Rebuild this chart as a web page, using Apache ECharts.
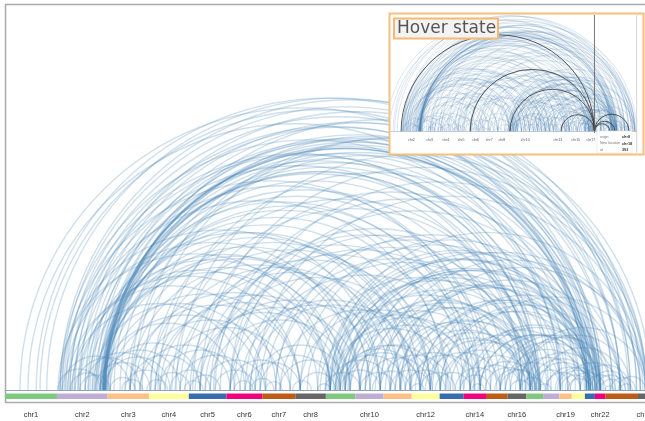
<!DOCTYPE html>
<html>
<head>
<meta charset="utf-8">
<script src="https://cdn.jsdelivr.net/npm/echarts@6/dist/echarts.min.js"></script>
<style>
  html, body { margin: 0; padding: 0; background: #fff; }
  #chart { width: 645px; height: 421px; }
</style>
</head>
<body>
<div id="chart"></div>
<script>
// Chromosomes laid end to end along the genome axis (lengths in Mb)
const chromNames = ['chr1','chr2','chr3','chr4','chr5','chr6','chr7','chr8','chr9','chr10','chr11','chr12',
  'chr13','chr14','chr15','chr16','chr17','chr18','chr19','chr20','chr21','chr22','chrX','chrY'];
const chromLengths = [249.3, 243.2, 198.0, 191.2, 180.9, 171.1, 159.1, 146.4, 141.2, 135.5, 135.0, 133.9,
  115.2, 107.3, 102.5, 90.4, 81.2, 78.1, 59.1, 63.0, 48.1, 51.3, 155.3, 59.4];
const chromColors = ['#7fc97f', '#beaed4', '#fdc086', '#ffff99', '#386cb0', '#f0027f', '#bf5b17', '#666666'];

// Chromosome names printed under each axis
const mainLabelled = ['chr1','chr2','chr3','chr4','chr5','chr6','chr7','chr8','chr10','chr12','chr14','chr16','chr19','chr22','chrY'];
const insetLabelled = ['chr2','chr3','chr4','chr5','chr6','chr7','chr8','chr10','chr13','chr15','chr17'];

// Rearrangement links: [origin, new location] in genome coordinates (Mb)
const links = [
  [72,2779],[110,2664],[168,2856],[264,3048],[274,2990],[293,2914],[312,2840],[336,2856],[360,3029],[384,2952],
  [398,2800],[418,2808],[437,3000],[456,2870],[466,2914],[475,2790],[485,2837],[504,3096],[523,2952],[552,2830],
  [600,2850],[658,3077],[734,2820],[821,3077],[264,2664],[283,2549],[312,2568],[331,2482],[408,2606],[446,2520],
  [461,2558],[470,2736],[480,2798],[494,2674],[274,2280],[302,2117],[350,2309],[427,2232],[456,2040],[470,2126],
  [485,2251],[936,3072],[1008,2840],[1080,3077],
  [1560,3072],[1632,2800],[1728,3048],[1800,2790],[1896,3072],[1992,2830],[2088,2845],[2184,3077],[2280,2810],
  [2376,2835],[2472,3072],
  [254,1560],[264,1800],[288,1704],[322,1416],[360,1608],[384,1896],[432,1560],[456,1632],[470,1752],[475,1848],
  [480,1944],[494,1416],[504,1224],[576,1992],[600,1800],[624,1560],[696,2040],[720,1896],[744,1656],[816,1944],
  [840,2088],[888,2280],[936,2232],[960,2040],[984,2472],[1032,2376],[1080,2568],[1152,2520],[1176,2280],[1224,2664],
  [1296,2520],[1368,2760],[1416,2856],[1536,2856],[1560,2808],[1584,2664],[1608,2568],[1632,2952],[1704,2856],[1752,2760],
  [1800,3048],[1848,2856],[1896,2952],[1944,2808],[1992,2856],[2040,2952],[2088,2904],[1560,2472],[1608,2424],[1656,2520],
  [1728,2520],[1776,2568],[1824,2472],[1872,2544],[1920,2496],[1968,2520],[2040,2520],[936,1800],[984,1656],[1080,1896],
  [1128,1992],[1176,1992],[1200,1632],[1320,2088],[1416,2184],[1512,2232],[1584,2280],[1632,2256],[600,1416],[648,1320],
  [720,1560],[768,1368],[864,1608],[912,1704],
  [254,456],[274,600],[312,475],[336,648],[360,504],[384,744],[432,696],[456,840],[475,792],[485,936],
  [504,624],[576,768],[600,936],[648,1080],[720,888],[744,1128],[792,984],[840,1176],[888,1032],[960,1248],
  [1008,1200],[1080,1368],[1152,1416],[1224,1560],[1320,1608],[1416,1584],[1536,1704],[1560,1848],[1584,1920],[1608,1800],
  [1632,1992],[1656,2088],[1704,1872],[1728,2040],[1762,1944],[1800,2136],[1848,2040],[1872,2232],[1920,2112],[1944,2280],
  [1992,2160],[2016,2376],[2064,2232],[2088,2472],[2160,2376],[2184,2328],[2232,2472],[2270,2544],[2304,2520],[2376,2568],
  [2400,2664],[2424,2520],[2448,2760],[2472,2592],[2496,2856],[2520,2712],[2544,2808],[2568,2976],[2592,2760],[2640,2856],
  [2664,2808],[2688,2952],[2712,2880],[2760,3000],[2784,2928],[2808,2990],[2832,2976],[2856,2960],[2904,3024],[2942,3072],
  [2520,2820],[2472,3000],[2424,2928],[2376,2904],[2328,2856],[2280,2808],[2232,2856],[2184,2760],[2136,2664],[2112,2568],
  [472,2790],[476,2810],[478,2700],[482,2620],[468,2560],[474,2480],[479,2400],[483,2860],[471,2330],[477,2200],
  [300,1300],[320,1150],[350,1500],[400,1700],[420,1250],[440,1950],[460,1100],[490,1750],
  [1540,2800],[1550,2600],[1575,2830],[1590,2700],[1600,2360],[1620,2050],[1645,2790],[1560,2150],[1595,1990],
  [700,2530],[800,2540],[1000,2550],[1250,2510],[1450,2530],[1700,2540],[1900,2560],[2200,2530],[2350,2550],[2000,2500],
  [900,2800],[1100,2820],[1300,2790],[1500,2840],[1650,2800],[1850,2830],[2050,2800],[2250,2850],[2400,2790],[2600,2820],
  [2650,2840],[2700,2810],
  [1250,1330],[1180,1290],[1380,1470],[1100,1190],[860,950],[680,780],[560,660],[1500,1560],[1950,2010],[2240,2300],
  [2560,2620],[2880,2920],[2950,3010],
  [150,2950],[200,3000],[620,3030],[1200,3060]
];

// Links of the hovered location, highlighted in the inset
const hoverLinks = [[247,2585],[1082,2585],[1565,2585],[2181,2585],[2585,2772],[2585,2833],[2585,3002]];
const hoverPosition = 2585;
const hoverDetails = [['origin', 'chr8'], ['New location', 'chr18'], ['id', '393']];

// ---- derived layout helpers ----
const chromStarts = [];
let acc = 0;
chromLengths.forEach(l => { chromStarts.push(acc); acc += l; });
const genomeEnd = acc;
const chromMid = i => chromStarts[i] + chromLengths[i] / 2;
const bandData = chromNames.map((n, i) => [chromStarts[i], chromStarts[i] + chromLengths[i], i % chromColors.length, 0]);
const labelValues = list => list.map(n => chromMid(chromNames.indexOf(n)));
function labelFor(v) {
  let best = 0, d = Infinity;
  chromNames.forEach((n, i) => { const dd = Math.abs(chromMid(i) - v); if (dd < d) { d = dd; best = i; } });
  return chromNames[best];
}

function arcRenderer(color, width) {
  return function (params, api) {
    const a = api.coord([api.value(0), 0]);
    const b = api.coord([api.value(1), 0]);
    return {
      type: 'arc',
      shape: { cx: (a[0] + b[0]) / 2, cy: a[1], r: Math.abs(b[0] - a[0]) / 2,
               startAngle: Math.PI, endAngle: Math.PI * 2, clockwise: true },
      style: { stroke: color, fill: null, lineWidth: width }
    };
  };
}
function bandRenderer(offset, h) {
  return function (params, api) {
    const a = api.coord([api.value(0), 0]);
    const b = api.coord([api.value(1), 0]);
    return { type: 'rect', shape: { x: a[0], y: a[1] + offset, width: b[0] - a[0], height: h },
             style: { fill: chromColors[api.value(2)] } };
  };
}

const linkData = links.map(l => [l[0], l[1], 0]);
const hoverData = hoverLinks.map(l => [l[0], l[1], 0]);

// inset geometry
const inset = { x: 389.5, y: 13.5, w: 254, h: 141 };
const insetLeft = 391, insetRightEdge = 636.7, insetBase = 131.5, insetMin = 125;
const insetScale = (insetRightEdge - insetLeft) / (genomeEnd - insetMin);
const hoverX = insetLeft + (hoverPosition - insetMin) * insetScale;

const chart = echarts.init(document.getElementById('chart'), null, { renderer: 'canvas' });
chart.setOption({
  animation: false,
  grid: [
    { left: 5, right: 0, top: 0, bottom: 31, outerBoundsMode: 'none' },
    { left: insetLeft, right: 645 - insetRightEdge, top: 15, bottom: 421 - insetBase, outerBoundsMode: 'none' }
  ],
  xAxis: [
    { gridIndex: 0, type: 'value', min: 0, max: 3070, splitLine: { show: false },
      axisTick: { show: false },
      axisLine: { show: true, lineStyle: { color: '#8fa4ba', width: 1 } },
      axisLabel: { customValues: labelValues(mainLabelled), formatter: labelFor, margin: 21,
                   fontSize: 7.5, color: '#333', fontFamily: 'Liberation Sans' } },
    { gridIndex: 1, type: 'value', min: insetMin, max: genomeEnd, z: 25, splitLine: { show: false },
      axisTick: { show: false },
      axisLine: { show: true, lineStyle: { color: '#9aabbd', width: 0.6 } },
      axisLabel: { customValues: labelValues(insetLabelled), formatter: labelFor, margin: 7,
                   fontSize: 3.5, color: '#555', fontFamily: 'Liberation Sans' } }
  ],
  yAxis: [
    { gridIndex: 0, type: 'value', min: 0, max: 1, show: false },
    { gridIndex: 1, type: 'value', min: 0, max: 1, show: false }
  ],
  series: [
    { type: 'custom', xAxisIndex: 0, yAxisIndex: 0, silent: true, z: 2,
      data: linkData, encode: { x: [0, 1], y: 2 }, renderItem: arcRenderer('rgba(70,130,180,0.26)', 1.4) },
    { type: 'custom', xAxisIndex: 0, yAxisIndex: 0, silent: true, z: 3,
      data: bandData, encode: { x: [0, 1], y: 3 }, renderItem: bandRenderer(3.5, 5.5) },
    { type: 'custom', xAxisIndex: 1, yAxisIndex: 1, silent: true, z: 20, clip: true,
      data: linkData, encode: { x: [0, 1], y: 2 }, renderItem: arcRenderer('rgba(70,130,180,0.26)', 0.7) },
    { type: 'custom', xAxisIndex: 1, yAxisIndex: 1, silent: true, z: 21, clip: true,
      data: hoverData, encode: { x: [0, 1], y: 2 }, renderItem: arcRenderer('#333', 0.8) },
    { type: 'custom', xAxisIndex: 1, yAxisIndex: 1, silent: true, z: 22, clip: true,
      data: bandData, encode: { x: [0, 1], y: 3 }, renderItem: bandRenderer(1, 3) }
  ],
  graphic: [
    // outer frame of the plot
    { type: 'rect', z: 1, silent: true, shape: { x: 5.5, y: 4.5, width: 700, height: 398 },
      style: { fill: null, stroke: '#aaaaaa', lineWidth: 1.5 } },
    // inset backdrop
    { type: 'rect', z: 10, silent: true, shape: { x: inset.x, y: inset.y, width: inset.w, height: inset.h },
      style: { fill: '#ffffff' } },
    { type: 'line', z: 23, silent: true, shape: { x1: insetRightEdge, y1: 15, x2: insetRightEdge, y2: 153 },
      style: { stroke: '#c8c8c8', lineWidth: 0.8 } },
    { type: 'line', z: 23, silent: true, shape: { x1: hoverX, y1: 15, x2: hoverX, y2: 133 },
      style: { stroke: '#555', lineWidth: 0.8 } },
    // hover tooltip
    { type: 'rect', z: 40, silent: true, shape: { x: 597, y: 131, width: 35, height: 22 },
      style: { fill: '#fff', stroke: '#e2e2e2', lineWidth: 0.6 } },
    ...hoverDetails.flatMap((row, i) => [
      { type: 'text', z: 41, silent: true, x: 600, y: 137 + i * 6.5,
        style: { text: row[0], fontSize: 3.5, fill: '#777', fontFamily: 'Liberation Sans', verticalAlign: 'middle' } },
      { type: 'text', z: 41, silent: true, x: 622, y: 137 + i * 6.5,
        style: { text: row[1], fontSize: 3.8, fontWeight: 'bold', fill: '#333', fontFamily: 'Liberation Sans', verticalAlign: 'middle' } }
    ]),
    // inset border
    { type: 'rect', z: 50, silent: true, shape: { x: inset.x, y: inset.y, width: inset.w, height: inset.h },
      style: { fill: null, stroke: '#f3c07f', lineWidth: 2 } },
    // caption box
    { type: 'rect', z: 50, silent: true, shape: { x: 394, y: 18.5, width: 104, height: 20 },
      style: { fill: '#f3f3f3', stroke: '#f5b971', lineWidth: 2 } },
    { type: 'text', z: 51, silent: true, x: 397, y: 29,
      style: { text: 'Hover state', fontSize: 17, fill: '#555', fontFamily: 'DejaVu Sans', verticalAlign: 'middle' } }
  ]
});
</script>
</body>
</html>
